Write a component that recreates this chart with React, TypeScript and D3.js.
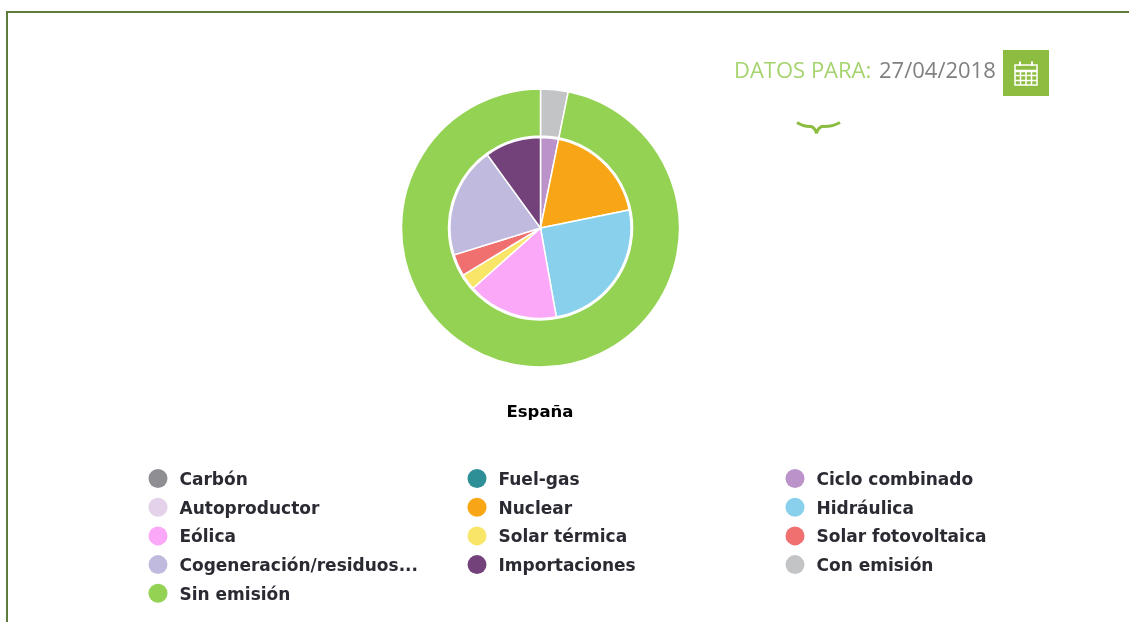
import React from "react";
import * as d3 from "d3";

const innerNames = ["Ciclo combinado", "Nuclear", "Hidráulica", "Eólica", "Solar térmica", "Solar fotovoltaica", "Cogeneración/residuos", "Importaciones"];
const innerValues = [3.2, 18.6, 25.4, 16.2, 2.9, 3.9, 19.8, 10.0];
const innerColors = ["#bb92c9", "#f9a612", "#88d0ec", "#fba8f8", "#f9e668", "#f07070", "#bfbade", "#73427a"];
const outerNames = ["Con emisión", "Sin emisión"];
const outerValues = [3.2, 96.8];
const outerColors = ["#c3c4c6", "#94d252"];
const legendLabels = ["Carbón", "Fuel-gas", "Ciclo combinado", "Autoproductor", "Nuclear", "Hidráulica", "Eólica", "Solar térmica", "Solar fotovoltaica", "Cogeneración/residuos...", "Importaciones", "Con emisión", "Sin emisión"];
const legendColors = ["#8f8f93", "#2f8f96", "#bb92c9", "#e3d2e9", "#f9a612", "#88d0ec", "#fba8f8", "#f9e668", "#f07070", "#bfbade", "#73427a", "#c3c4c6", "#94d252"];
const title = "España";
const dateLabel = "DATOS PARA:";
const dateValue = "27/04/2018";

const cx = 540.5;
const cy = 228;
const pie = d3.pie<number>().sort(null).value((d) => d);
const innerArc = d3.arc<d3.PieArcDatum<number>>().innerRadius(0).outerRadius(90.5);
const outerArc = d3.arc<d3.PieArcDatum<number>>().innerRadius(92).outerRadius(139);

const legendX = d3.scaleOrdinal<number, number>().domain([0, 1, 2]).range([158, 477, 795]);
const legendY = d3.scaleLinear().domain([0, 1]).range([478.5, 507.2]);

export default function App() {
  return (
    <svg width={1129} height={622} style={{ position: "absolute", left: 0, top: 0, background: "#fff" }}>
      <defs>
        <filter id="soft" filterUnits="userSpaceOnUse" x="0" y="0" width="1129" height="622">
          <feGaussianBlur stdDeviation="0.55" />
        </filter>
      </defs>
      <g filter="url(#soft)">
        <path d="M7 622V12H1129" fill="none" stroke="#5f7d39" strokeWidth={2} />

        <g transform={`translate(${cx},${cy})`}>
          {pie(outerValues).map((d, i) => (
            <path key={outerNames[i]} d={outerArc(d) as string} fill={outerColors[i]} stroke="#fff" strokeWidth={1.5} />
          ))}
          {pie(innerValues).map((d, i) => (
            <path key={innerNames[i]} d={innerArc(d) as string} fill={innerColors[i]} stroke="#fff" strokeWidth={1.5} />
          ))}
        </g>

        <text x={540} y={417} textAnchor="middle" fontFamily="'DejaVu Sans'" fontWeight={700} fontSize={16.5} fill="#000">{title}</text>

        {legendLabels.map((label, i) => {
          const col = i % 3;
          const row = Math.floor(i / 3);
          const x = legendX(col);
          const y = legendY(row);
          return (
            <g key={label}>
              <circle cx={x} cy={y} r={9.5} fill={legendColors[i]} />
              <text x={x + 21.5} y={y + 6.5} fontFamily="'DejaVu Sans'" fontWeight={700} fontSize={17} fill="#2b2b33">{label}</text>
            </g>
          );
        })}

        <text x={734} y={78} fontFamily="'Open Sans'" fontSize={22} fill="#a5d46e">{dateLabel}</text>
        <text x={879} y={78} fontFamily="'Open Sans'" fontSize={22} fill="#808080">{dateValue}</text>

        <rect x={1003} y={50} width={46} height={46} fill="#8cbd3f" />
        <g fill="none" stroke="#fff" strokeWidth={1.5}>
          <rect x={1015} y={65} width={22} height={20} />
          <path d="M1015 71H1037" strokeWidth={2.5} />
          <path d="M1015 75.5H1037M1015 80.5H1037M1020.5 71V85M1026 71V85M1031.5 71V85" />
          <path d="M1020 61.5V66M1032 61.5V66" strokeWidth={2} />
        </g>

        <path d="M797 122.5Q804 127 811 126.5Q815 127.5 816.5 133.5M840 122.5Q832 127 822 126.5Q818 127.5 816.5 133.5" fill="none" stroke="#8cbd3f" strokeWidth={3} />
      </g>
    </svg>
  );
}
